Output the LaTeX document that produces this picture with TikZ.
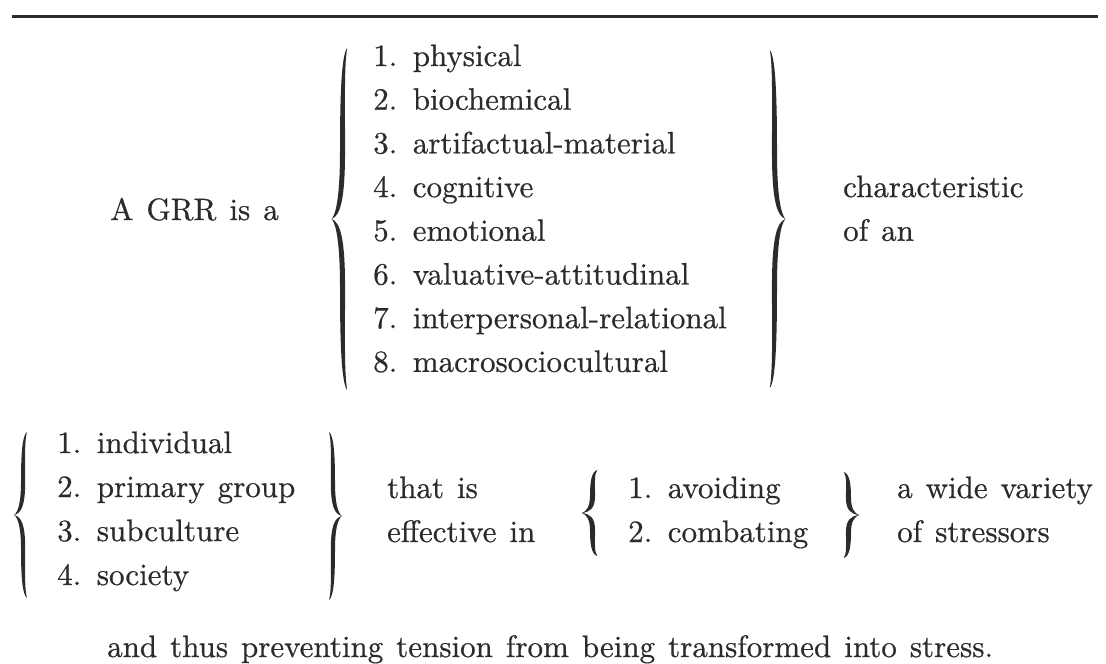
\documentclass[tikz,border=0pt]{standalone}
\usepackage{fontspec}
\setmainfont{lmroman10-regular}[Extension=.otf, FakeBold=0.6]
\usetikzlibrary{math}
\definecolor{ink}{RGB}{45,42,40}

\tikzset{
  txt/.style={anchor=base west, inner sep=0pt, text=ink,
    font=\fontsize{31}{37}\selectfont,
    execute at begin node={\spaceskip=0.42em\relax}},
  % a tall curly brace, opening to the right, 2 units high
  curly/.pic={
    \fill[ink] (0.6,0) .. controls (0.1,0.04) and (0,0.3) .. (0,0.6)
      .. controls (0,0.85) and (-0.3,0.97) .. (-0.7,1)
      .. controls (-0.3,1.03) and (0,1.15) .. (0,1.4)
      .. controls (0,1.7) and (0.1,1.96) .. (0.6,2)
      .. controls (0.35,1.9) and (0.42,1.7) .. (0.42,1.4)
      .. controls (0.42,1.12) and (0.05,1.02) .. (-0.7,1)
      .. controls (0.05,0.98) and (0.42,0.88) .. (0.42,0.6)
      .. controls (0.42,0.3) and (0.35,0.1) .. (0.6,0) -- cycle;
  }
}

\begin{document}
\begin{tikzpicture}[x=1pt,y=-1pt]
\tikzmath{
\lh=43.7;
\lb=44;
}
\useasboundingbox (0,0) rectangle (1106,664);

\draw[ink, line width=3] (12,16) -- (1098,16);

% first row
\node[txt] (grr) at (110,220) {A GRR is a};
\pic[xscale=12, yscale=171] at (340,48) {curly};
\node[txt] (t1) at (373,66) {1.\enskip physical};
\node[txt] (t2) at (373,66+\lh) {2.\enskip biochemical};
\node[txt] (t3) at (373,66+2*\lh) {3.\enskip artifactual-material};
\node[txt] (t4) at (373,66+3*\lh) {4.\enskip cognitive};
\node[txt] (t5) at (373,66+4*\lh) {5.\enskip emotional};
\node[txt] (t6) at (373,66+5*\lh) {6.\enskip valuative-attitudinal};
\node[txt] (t7) at (373,66+6*\lh) {7.\enskip interpersonal-relational};
\node[txt] (t8) at (373,66+7*\lh) {8.\enskip macrosociocultural};
\pic[xscale=-12, yscale=169] at (777,50) {curly};
\node[txt] (charac) at (843,66+3*\lh) {characteristic};
\node[txt] (ofan) at (843,66+4*\lh) {of an};

% second row
\pic[xscale=10, yscale=83] at (21,432) {curly};
\node[txt] (u1) at (57,453) {1.\enskip individual};
\node[txt] (u2) at (57,453+\lb) {2.\enskip primary group};
\node[txt] (u3) at (57,453+2*\lb) {3.\enskip subculture};
\node[txt] (u4) at (57,453+3*\lb) {4.\enskip society};
\pic[xscale=-10, yscale=84] at (335,432) {curly};
\node[txt] (thatis) at (387,498) {that is};
\node[txt] (effin) at (387,542) {effective in};
\pic[xscale=12, yscale=43] at (590,470) {curly};
\node[txt] (v1) at (628,498) {1.\enskip avoiding};
\node[txt] (v2) at (628,542) {2.\enskip combating};
\pic[xscale=-12, yscale=43] at (851,472) {curly};
\node[txt] (wide) at (897,498) {a wide variety};
\node[txt] (ofstr) at (897,542) {of stressors};

\node[txt] (thus) at (107,657) {and thus preventing tension from being transformed into stress.};
\end{tikzpicture}
\end{document}
